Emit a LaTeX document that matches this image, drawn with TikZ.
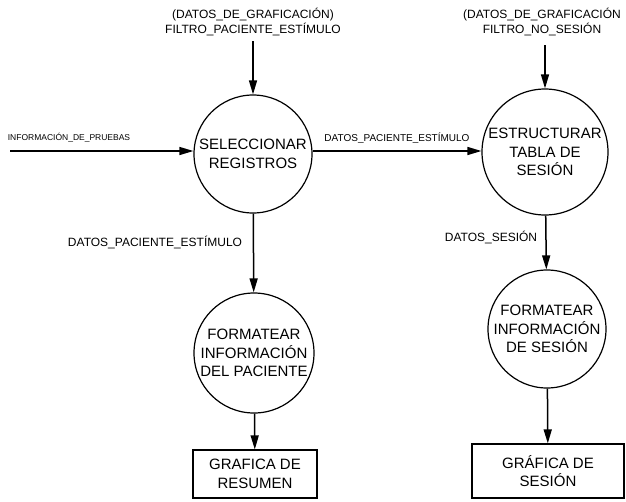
\documentclass[tikz,border=0pt]{standalone}
\usepackage{fontspec}
\setmainfont{Liberation Sans}
\usetikzlibrary{arrows.meta,positioning}

\begin{document}
\begin{tikzpicture}[x=1pt,y=-1pt,>={Triangle[length=14pt,width=8pt]},
    proc/.style={draw,circle,line width=1.2pt,inner sep=0pt,align=center,font=\fontsize{15}{18.5}\selectfont},
    store/.style={draw,line width=1.2pt,inner sep=0pt,align=center,font=\fontsize{15}{18.5}\selectfont},
    lbl/.style={align=center,inner sep=1pt,font=\fontsize{12}{15}\selectfont},
    flw/.style={->,line width=1.5pt}]
    \useasboundingbox (0,0) rectangle (626,501);

    \node[proc,minimum size=118pt] (selreg) at (253,154) {SELECCIONAR\\REGISTROS};
    \node[proc,minimum size=126pt] (esttab) at (545,152) {ESTRUCTURAR\\TABLA DE\\SESIÓN};
    \node[proc,minimum size=120pt] (fmtpac) at (254,353) {FORMATEAR\\INFORMACIÓN\\DEL PACIENTE};
    \node[proc,minimum size=118pt] (fmtses) at (547,329) {FORMATEAR\\INFORMACIÓN\\DE SESIÓN};

    \node[store,minimum width=124pt,minimum height=48pt] (grfres) at (255,474) {GRAFICA DE\\RESUMEN};
    \node[store,minimum width=152pt,minimum height=54pt] (grfses) at (548,471) {GRÁFICA DE\\SESIÓN};

    \node[lbl] (filpac) at (253,22) {(DATOS\_DE\_GRAFICACIÓN)\\FILTRO\_PACIENTE\_ESTÍMULO};
    \node[lbl] (filses) at (542,22) {(DATOS\_DE\_GRAFICACIÓN\\FILTRO\_NO\_SESIÓN};
    \node[lbl,font=\fontsize{8.5}{10}\selectfont] (infpru) at (69,138) {INFORMACIÓN\_DE\_PRUEBAS};
    \node[lbl,font=\fontsize{10}{12}\selectfont] (dpe1) at (397,138) {DATOS\_PACIENTE\_ESTÍMULO};
    \node[lbl] (dpe2) at (155,242) {DATOS\_PACIENTE\_ESTÍMULO};
    \node[lbl] (dses) at (491,237) {DATOS\_SESIÓN};

    \coordinate (inpru) at (10,151);

    \draw[flw] (filpac.south -| selreg.north) ++(0,4) -- (selreg.north);
    \draw[flw] (filses.south -| esttab.north) ++(0,8) -- (esttab.north);
    \draw[flw] (inpru) -- (selreg.west |- inpru);
    \draw[flw] (selreg.east |- inpru) -- (esttab.west |- inpru);
    \draw[flw] (selreg) -- (fmtpac);
    \draw[flw] (esttab) -- (fmtses);
    \draw[flw] (fmtpac) -- (grfres);
    \draw[flw] (fmtses) -- (grfses);
\end{tikzpicture}
\end{document}
